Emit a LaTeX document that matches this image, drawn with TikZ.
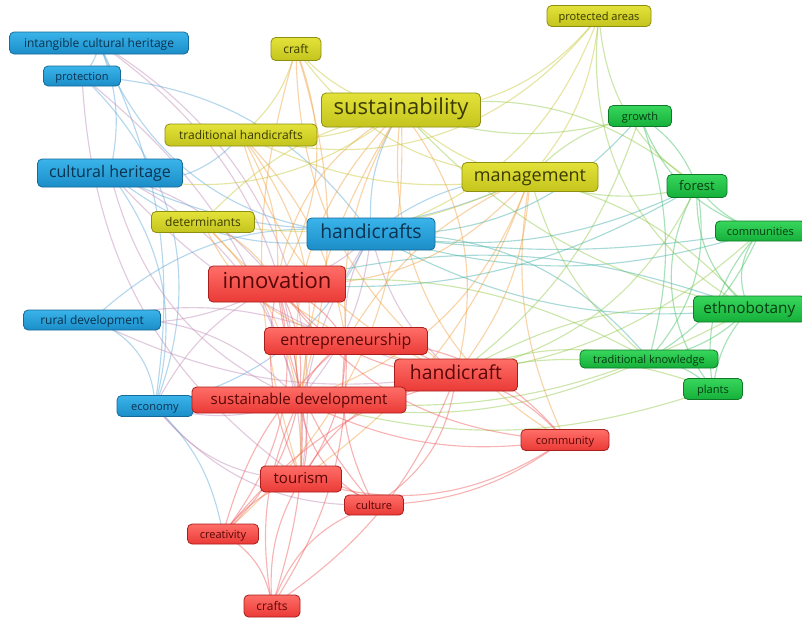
\documentclass[tikz,border=0pt]{standalone}
\usepackage{fontspec}
\setmainfont{Open Sans}
\pgfdeclarelayer{background}
\pgfsetlayers{background,main}
\definecolor{bluetop}{HTML}{3AB4EA}\definecolor{bluebot}{HTML}{1B8DC8}\definecolor{blueline}{HTML}{166A98}\definecolor{bluetext}{HTML}{0A3350}
\definecolor{yeltop}{HTML}{E2E23A}\definecolor{yelbot}{HTML}{C4C41E}\definecolor{yelline}{HTML}{8E8E10}\definecolor{yeltext}{HTML}{3A3A00}
\definecolor{grntop}{HTML}{38D65C}\definecolor{grnbot}{HTML}{15B03A}\definecolor{grnline}{HTML}{0E7A28}\definecolor{grntext}{HTML}{053D12}
\definecolor{redtop}{HTML}{FF6E68}\definecolor{redbot}{HTML}{EA3A36}\definecolor{redline}{HTML}{A81E1C}\definecolor{redtext}{HTML}{5A0606}
\definecolor{eblue}{HTML}{5AA8D8}\definecolor{eyel}{HTML}{C8C832}\definecolor{egrn}{HTML}{3CC060}
\definecolor{ered}{HTML}{F05A5A}\definecolor{eorg}{HTML}{F0A040}\definecolor{epur}{HTML}{C08AB8}
\definecolor{eteal}{HTML}{40B0A8}\definecolor{eyelgrn}{HTML}{90C848}
\tikzset{
  kw/.style={rounded corners=3.5pt, line width=0.6pt, inner sep=0pt, align=center,
    text height=0.92em, text depth=0.2em},
  box/.style 2 args={minimum width=#1*0.75pt, minimum height=#2*0.75pt},
  kwb/.style={kw, top color=bluetop, bottom color=bluebot, draw=blueline, text=bluetext},
  kwy/.style={kw, top color=yeltop, bottom color=yelbot, draw=yelline, text=yeltext},
  kwg/.style={kw, top color=grntop, bottom color=grnbot, draw=grnline, text=grntext},
  kwr/.style={kw, top color=redtop, bottom color=redbot, draw=redline, text=redtext},
  link/.style={line width=0.85pt, opacity=0.45},
  eb/.style={link, eblue}, ey/.style={link, eyel}, eg/.style={link, egrn},
  er/.style={link, ered}, eo/.style={link, eorg}, ep/.style={link, epur},
  et/.style={link, eteal}, eyg/.style={link, eyelgrn},
}
\newcommand{\fs}[1]{\fontsize{#1}{#1}\selectfont}
\begin{document}
\begin{tikzpicture}[x=0.75pt, y=-0.75pt]
\useasboundingbox (0,0) rectangle (802,619);

% blue cluster
\node[kwb, box={179}{22}, font=\fs{9pt}] (ich) at (99,43) {intangible cultural heritage};
\node[kwb, box={77}{20}, font=\fs{8.3pt}] (prot) at (82,76) {protection};
\node[kwb, box={145}{28}, font=\fs{12pt}] (culher) at (110,173) {cultural heritage};
\node[kwb, box={128}{32}, font=\fs{14.5pt}] (hcs) at (371,234) {handicrafts};
\node[kwb, box={137}{20}, font=\fs{9pt}] (rural) at (92,320) {rural development};
\node[kwb, box={76}{21}, font=\fs{8.3pt}] (econ) at (155,406) {economy};

% yellow cluster
\node[kwy, box={50}{23}, font=\fs{9pt}] (craft) at (296,49) {craft};
\node[kwy, box={104}{21}, font=\fs{8.3pt}] (parea) at (599,16) {protected areas};
\node[kwy, box={159}{34}, font=\fs{16.5pt}] (sust) at (401,110) {sustainability};
\node[kwy, box={152}{22}, font=\fs{9pt}] (trhc) at (241,135) {traditional handicrafts};
\node[kwy, box={136}{29}, font=\fs{13.5pt}] (mgmt) at (530,177) {management};
\node[kwy, box={103}{21}, font=\fs{9pt}] (determ) at (203,222) {determinants};

% green cluster
\node[kwg, box={63}{21}, font=\fs{8.3pt}] (growth) at (640,116) {growth};
\node[kwg, box={60}{23}, font=\fs{9.8pt}] (forest) at (697,186) {forest};
\node[kwg, box={90}{20}, font=\fs{8.3pt}, anchor=west] (comms) at (715,231) {communities};
\node[kwg, box={112}{26}, font=\fs{11.5pt}, anchor=west] (ethno) at (693,309) {ethnobotany};
\node[kwg, box={138}{18}, font=\fs{8.3pt}] (tk) at (649,359) {traditional knowledge};
\node[kwg, box={59}{21}, font=\fs{8.3pt}] (plants) at (713,389) {plants};

% red cluster
\node[kwr, box={137}{36}, font=\fs{16.5pt}] (innov) at (277,284) {innovation};
\node[kwr, box={163}{27}, font=\fs{12pt}] (entre) at (346,341) {entrepreneurship};
\node[kwr, box={123}{32}, font=\fs{14.5pt}] (hc) at (456,375) {handicraft};
\node[kwr, box={214}{26}, font=\fs{11.3pt}] (sdev) at (299,400) {sustainable development};
\node[kwr, box={88}{21}, font=\fs{8.3pt}] (cmty) at (565,440) {community};
\node[kwr, box={81}{26}, font=\fs{11.3pt}] (tour) at (301,479) {tourism};
\node[kwr, box={59}{20}, font=\fs{8.3pt}] (cult) at (374,505) {culture};
\node[kwr, box={71}{20}, font=\fs{8.3pt}] (creat) at (223,534) {creativity};
\node[kwr, box={56}{22}, font=\fs{9pt}] (crafts) at (272,606) {crafts};

\begin{pgfonlayer}{background}
\fill[white] (0,0) rectangle (802,619);
% co-occurrence links, drawn as arcs between keyword centres
\foreach \a/\b/\c/\k [evaluate=\k as \kk using 1.7*\k] in {
  ich/prot/eb/10, ich/hcs/eb/-20, ich/culher/eb/10, ich/sdev/ep/15, ich/econ/eb/10, ich/tour/ep/20,
  prot/hcs/eb/15, prot/tour/ep/-15, prot/econ/eb/20, prot/sdev/ep/10,
  culher/hcs/eb/-15, culher/innov/ep/10, culher/sdev/ep/-15, culher/tour/ep/20, culher/hc/ep/-10,
  culher/trhc/eb/-20, culher/mgmt/eb/-15, culher/econ/eb/15,
  hcs/mgmt/eb/10, hcs/ethno/et/-10, hcs/comms/et/-10, hcs/tk/et/15, hcs/innov/ep/10, hcs/entre/ep/-10,
  hcs/sdev/ep/10, hcs/tour/ep/-10, hcs/econ/eb/15, hcs/rural/eb/-15, hcs/hc/ep/-10, hcs/sust/eb/10,
  rural/innov/ep/-10, rural/hc/ep/-10, rural/econ/eb/20, rural/entre/ep/10, rural/sdev/ep/15,
  econ/tour/ep/-15, econ/cult/ep/-15, econ/sdev/ep/-10, econ/innov/ep/10, econ/creat/eb/10,
  sust/craft/ey/10, sust/parea/ey/-15, sust/mgmt/ey/-10, sust/innov/eo/-15, sust/hc/eo/15,
  sust/entre/eo/-10, sust/sdev/eo/-15, sust/tour/eo/-10, sust/trhc/ey/10, sust/determ/ey/-10,
  sust/growth/eyg/-10, sust/forest/eyg/15, sust/culher/ey/15, sust/ethno/eyg/-10, sust/cmty/eo/-20, sust/creat/eo/15,
  craft/innov/eo/15, craft/mgmt/ey/-15, craft/hc/eo/-15, craft/sdev/eo/10, craft/trhc/ey/10, craft/tour/eo/-10,
  parea/mgmt/ey/10, parea/forest/eyg/-15, parea/ethno/eyg/-20, parea/hcs/ey/15, parea/trhc/ey/20,
  mgmt/forest/eyg/-10, mgmt/growth/eyg/10, mgmt/hc/eo/10, mgmt/innov/eo/15, mgmt/cmty/eo/-10,
  mgmt/tour/eo/10, mgmt/entre/eo/-10, mgmt/tk/eyg/-10, mgmt/sdev/eo/15, mgmt/ethno/eyg/10,
  trhc/hc/eo/-15, trhc/innov/eo/10, trhc/sdev/eo/15, trhc/mgmt/ey/-10, trhc/entre/eo/10,
  determ/hc/eo/-10, determ/innov/eo/10, determ/entre/eo/-15, determ/sdev/eo/10, determ/mgmt/ey/-10,
  growth/forest/eg/10, growth/hc/eyg/10, growth/comms/eg/-15, growth/tk/eg/10, growth/hcs/et/15,
  forest/comms/eg/-10, forest/ethno/eg/-15, forest/tk/eg/15, forest/plants/eg/-20, forest/hc/eyg/15,
  forest/hcs/et/10, forest/innov/et/10,
  comms/ethno/eg/-20, comms/tk/eg/10, comms/plants/eg/-15, comms/hcs/et/5, comms/hc/eyg/10,
  ethno/tk/eg/10, ethno/plants/eg/-10, ethno/hc/eyg/-10, ethno/innov/et/-10, ethno/sdev/eyg/10,
  tk/plants/eg/10, tk/hc/eyg/-10, tk/sdev/eyg/10, tk/innov/eyg/-10,
  plants/hc/eyg/-10, plants/sdev/eyg/10,
  innov/entre/er/10, innov/hc/er/-15, innov/sdev/er/10, innov/tour/er/-10, innov/creat/er/15,
  innov/crafts/er/10, innov/cult/er/-10, innov/cmty/er/-15,
  entre/hc/er/10, entre/sdev/er/-10, entre/tour/er/10, entre/creat/er/-10, entre/crafts/er/10,
  entre/cult/er/-10, entre/cmty/er/15,
  hc/sdev/er/10, hc/tour/er/-15, hc/cmty/er/10, hc/cult/er/15, hc/creat/er/-10, hc/crafts/er/10,
  sdev/tour/er/10, sdev/cult/er/-15, sdev/creat/er/10, sdev/cmty/er/-10, sdev/crafts/er/-10,
  tour/cult/er/10, tour/creat/er/-10, tour/crafts/er/-10,
  creat/crafts/er/15, cult/crafts/er/-15, cmty/tour/er/15, cmty/cult/er/10}
  \draw[\c] (\a.center) to[bend left=\kk] (\b.center);
\end{pgfonlayer}
\end{tikzpicture}
\end{document}
